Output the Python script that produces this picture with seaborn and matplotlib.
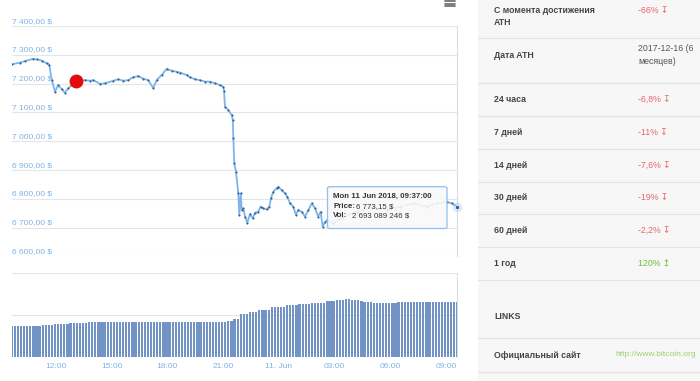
import numpy as np
import matplotlib
matplotlib.use('Agg')
import matplotlib.pyplot as plt
import seaborn as sns
from matplotlib.patches import FancyBboxPatch, Rectangle
from matplotlib.lines import Line2D
import matplotlib.transforms as mtransforms

# --- data (hours counted from 10 Jun 00:00) ---
price_hours = [9.617, 10.06, 10.33, 10.76, 10.96, 11.23, 11.50, 11.64, 11.77, 11.95,
               12.12, 12.31, 12.48, 12.66, 12.85, 13.08, 13.29, 13.56, 13.83, 14.01,
               14.37, 14.64, 15.09, 15.35, 15.62, 15.89, 16.16, 16.43, 16.70, 16.97,
               17.24, 17.42, 17.69, 17.96, 18.23, 18.50, 18.68, 19.04, 19.22, 19.49,
               19.75, 20.02, 20.29, 20.56, 20.83, 21.01, 21.05, 21.10, 21.28, 21.46,
               21.52, 21.55, 21.60, 21.69, 21.82, 21.87, 21.95, 22.00, 22.09, 22.18,
               22.30, 22.45, 22.59, 22.72, 22.89, 23.02, 23.16, 23.34, 23.49, 23.58,
               23.70, 23.88, 23.97, 24.15, 24.33, 24.46, 24.60, 24.78, 24.92, 25.05,
               25.23, 25.41, 25.59, 25.77, 25.95, 26.12, 26.25, 26.36, 26.49, 26.61,
               26.93, 27.47, 28.19, 29.09, 29.81, 30.52, 31.24, 31.96, 32.50, 33.04,
               33.31, 33.617]
price_usd = [7267, 7273, 7278, 7286, 7284, 7280, 7270, 7265, 7212, 7172,
             7195, 7180, 7168, 7184, 7195, 7205, 7210, 7212, 7210, 7212,
             7199, 7201, 7210, 7215, 7210, 7212, 7222, 7226, 7217, 7212,
             7184, 7212, 7230, 7251, 7245, 7241, 7238, 7230, 7222, 7215,
             7212, 7207, 7207, 7201, 7195, 7189, 7175, 7120, 7108, 7091,
             7074, 7010, 6923, 6894, 6819, 6744, 6819, 6761, 6767, 6738,
             6717, 6747, 6732, 6752, 6755, 6773, 6767, 6763, 6773, 6802,
             6825, 6836, 6842, 6830, 6819, 6807, 6784, 6773, 6744, 6761,
             6755, 6738, 6761, 6784, 6767, 6738, 6755, 6703, 6720, 6726,
             6715, 6738, 6755, 6773, 6761, 6773, 6784, 6773, 6784, 6790,
             6784, 6773.15]

# 24h volume, billions of $, one bar every 10 minutes from 09:37
vol_start_hour = 9.617
vol_bn = [1.46, 1.46, 1.46, 1.46, 1.46, 1.46, 1.46, 1.46, 1.46, 1.46,
          1.51, 1.51, 1.51, 1.51, 1.55, 1.59, 1.59, 1.59, 1.59, 1.62,
          1.62, 1.62, 1.62, 1.62, 1.62, 1.65, 1.65, 1.65, 1.65, 1.65,
          1.65, 1.65, 1.65, 1.65, 1.68, 1.68, 1.68, 1.68, 1.68, 1.68,
          1.68, 1.68, 1.68, 1.68, 1.65, 1.65, 1.65, 1.65, 1.68, 1.68,
          1.68, 1.68, 1.68, 1.68, 1.68, 1.68, 1.68, 1.68, 1.68, 1.68,
          1.68, 1.68, 1.68, 1.68, 1.68, 1.68, 1.68, 1.68, 1.68, 1.68,
          1.73, 1.73, 1.83, 1.83, 2.06, 2.06, 2.06, 2.14, 2.14, 2.14,
          2.25, 2.25, 2.25, 2.25, 2.38, 2.38, 2.38, 2.38, 2.38, 2.46,
          2.46, 2.46, 2.46, 2.52, 2.52, 2.52, 2.52, 2.59, 2.59, 2.59,
          2.59, 2.59, 2.67, 2.67, 2.67, 2.73, 2.73, 2.73, 2.76, 2.78,
          2.72, 2.70, 2.70, 2.68, 2.60, 2.60, 2.60, 2.56, 2.56, 2.56,
          2.56, 2.56, 2.56, 2.59, 2.59, 2.62, 2.62, 2.62, 2.62, 2.62,
          2.62, 2.62, 2.62, 2.62, 2.62, 2.62, 2.62, 2.62, 2.62, 2.62,
          2.62, 2.62, 2.62, 2.62, 2.62]

price_ticks = [6600, 6700, 6800, 6900, 7000, 7100, 7200, 7300, 7400]
price_tick_labels = ['6 600,00 $', '6 700,00 $', '6 800,00 $', '6 900,00 $', '7 000,00 $',
                     '7 100,00 $', '7 200,00 $', '7 300,00 $', '7 400,00 $']
time_ticks = [12, 15, 18, 21, 24, 27, 30, 33]
time_labels = ['12:00', '15:00', '18:00', '21:00', '11. Jun', '03:00', '06:00', '09:00']

marker_hour, marker_price = 13.08, 7209

tooltip_title = 'Mon 11 Jun 2018, 09:37:00'
tooltip_price = '6 773,15 $'
tooltip_vol = '2 693 089 246 $'

stat_labels = ['С момента достижения\nATH', 'Дата ATH', '24 часа', '7 дней', '14 дней',
               '30 дней', '60 дней', '1 год', 'LINKS', 'Официальный сайт']
stat_values = ['-66% ↧', '2017-12-16 (6\nмесяцев)', '-6,8% ↧', '-11% ↧', '-7,6% ↧',
               '-19% ↧', '-2,2% ↧', '120% ↥', '', 'http://www.bitcoin.org']

# --- style ---
sns.set_style('white')
plt.rcParams['font.family'] = ['Liberation Sans', 'DejaVu Sans']

W, H = 700, 381
fig = plt.figure(figsize=(7, 3.81), dpi=100)

def fx(px):
    return px / W

def fy(py):
    return 1 - py / H

axis_blue = '#7fb2e5'
grid_col = '#e6e6e6'
left, right = 11.75, 457.4

# price panel
ax_p = fig.add_axes([fx(left), fy(256.4), fx(right - left), (256.4 - 26) / H])
sns.lineplot(x=price_hours, y=price_usd, ax=ax_p, color='#7cb5ec', lw=1.3,
             marker='o', markersize=1.5, markeredgewidth=0,
             markerfacecolor='#2f5f8f', sort=False)
ax_p.set_xlim(9.617, 33.617)
ax_p.set_ylim(6600, 7400)
ax_p.set_yticks(price_ticks)
ax_p.set_yticklabels([])
ax_p.set_xticks([])
ax_p.tick_params(length=0)
ax_p.grid(axis='y', color=grid_col, lw=0.8)
for s in ['left', 'top', 'bottom']:
    ax_p.spines[s].set_visible(False)
ax_p.spines['right'].set_color('#d8dde6')
ax_p.spines['right'].set_linewidth(0.8)
trans = mtransforms.blended_transform_factory(ax_p.transAxes, ax_p.transData)
for v, lab in zip(price_ticks, price_tick_labels):
    ax_p.text(0.001, v + 5, lab, transform=trans, fontsize=6.0, color=axis_blue,
              va='bottom', ha='left')

ax_p.scatter([marker_hour], [marker_price], s=100, color='#e30b0b', zorder=5,
             linewidths=0)
ax_p.scatter([price_hours[-1]], [price_usd[-1]], s=45, color='#7cb5ec', alpha=0.3,
             linewidths=0, zorder=6, clip_on=False)
ax_p.scatter([price_hours[-1]], [price_usd[-1]], s=9, color='#2f5f8f',
             edgecolor='white', linewidths=0.5, zorder=7, clip_on=False)

# volume panel
ax_v = fig.add_axes([fx(left), fy(357), fx(right - left), 84 / H])
vol_hours = vol_start_hour + np.arange(len(vol_bn)) / 6
ax_v.bar(vol_hours, vol_bn, width=0.12, color='#7294c4', linewidth=0)
ax_v.set_xlim(9.617, 33.617)
ax_v.set_ylim(0, 4)
ax_v.set_yticks([0, 2, 4])
ax_v.set_yticklabels([])
ax_v.set_xticks(time_ticks)
ax_v.set_xticklabels(time_labels, fontsize=6.0, color=axis_blue)
ax_v.tick_params(length=0, pad=4)
ax_v.grid(axis='y', color=grid_col, lw=0.8)
ax_v.set_axisbelow(True)
for s in ['left', 'top', 'bottom']:
    ax_v.spines[s].set_visible(False)
ax_v.spines['right'].set_color('#d8dde6')
ax_v.spines['right'].set_linewidth(0.8)

# tooltip
tip = FancyBboxPatch((fx(327.5), fy(228.5)), fx(447 - 327.5), (228.5 - 186.7) / H,
                     boxstyle='round,pad=0,rounding_size=0.004',
                     transform=fig.transFigure, facecolor=(0.975, 0.975, 0.975, 0.88),
                     edgecolor='#8fc0ee', lw=0.9, zorder=10)
fig.add_artist(tip)
fig.text(fx(333), fy(196.7), tooltip_title, fontsize=5.7, fontweight='bold',
         color='#333333', va='center', zorder=11)
fig.text(fx(333), fy(206.2), 'Price:', fontsize=5.7, fontweight='bold',
         color='#333333', va='center', zorder=11)
fig.text(fx(356.5), fy(206.2), tooltip_price, fontsize=5.7, color='#333333',
         va='center', zorder=11)
fig.text(fx(333), fy(215.6), 'Vol:', fontsize=5.7, fontweight='bold',
         color='#333333', va='center', zorder=11)
fig.text(fx(351.5), fy(215.6), tooltip_vol, fontsize=5.7, color='#333333',
         va='center', zorder=11)

# menu icon
for yy in [1.4, 3.6, 5.8]:
    fig.add_artist(Line2D([fx(445), fx(455)], [fy(yy), fy(yy)], color='#666666', lw=1.2))

# stats table on the right
fig.add_artist(Rectangle((fx(478), 0), fx(W - 478), 1, transform=fig.transFigure,
                         facecolor='#f7f7f7', edgecolor='none', zorder=0))
for yy in [38.3, 83.3, 116.3, 148.7, 182, 214.3, 247.3, 280, 338.3, 371.7]:
    fig.add_artist(Line2D([fx(478), 1], [fy(yy), fy(yy)], color='#e4e4e4', lw=0.9))

row_y = [16.5, 55, 99.3, 132.3, 165, 197.3, 230.7, 263, 316.7, 355]
for lab, val, yy in zip(stat_labels, stat_values, row_y):
    fig.text(fx(494), fy(yy), lab, fontsize=6.3, fontweight='bold', color='#444444',
             va='center', ha='left', linespacing=1.45)
    if not val:
        continue
    if val.startswith('http'):
        fig.text(fx(615.5), fy(yy), val, fontsize=6.0, color='#9fd06a', va='center')
    elif val.startswith('-'):
        yv = yy - 5.8 if yy == row_y[0] else yy
        fig.text(fx(638), fy(yv), val, fontsize=6.3, color='#e8656b', va='center')
    elif '%' in val:
        fig.text(fx(638), fy(yy), val, fontsize=6.3, color='#6cbf3c', va='center')
    else:
        fig.text(fx(638), fy(yy), val, fontsize=6.3, color='#555555', va='center',
                 linespacing=1.45)

fig.savefig('out.png', dpi=100)
